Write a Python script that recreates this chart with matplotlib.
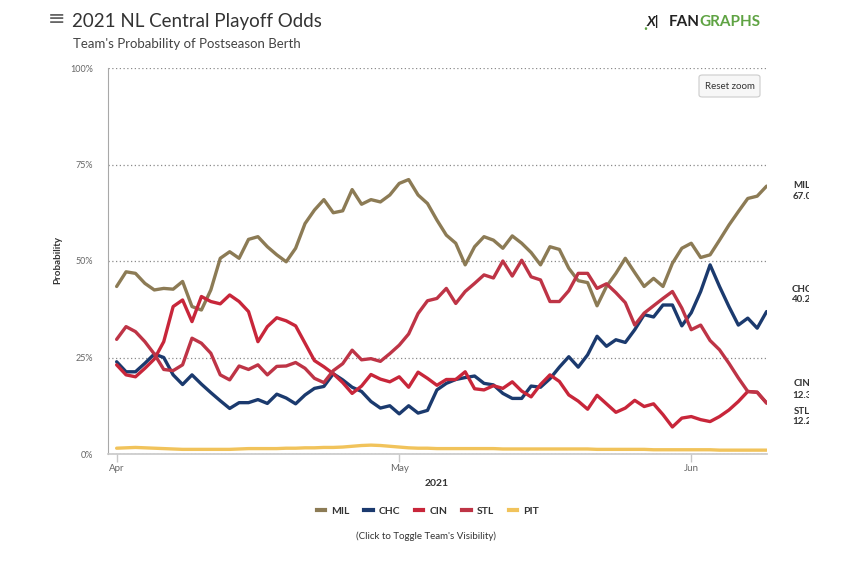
import numpy as np
import pandas as pd
import matplotlib
matplotlib.use("Agg")
import matplotlib.pyplot as plt
import matplotlib.dates as mdates
from matplotlib.lines import Line2D
from matplotlib.patches import FancyBboxPatch, Rectangle

plt.rcParams['font.family'] = ['Lato', 'DejaVu Sans']

# data: daily playoff odds (%), Apr 1 - Jun 9, 2021
dates = pd.date_range("2021-04-01", periods=70, freq="D")

mil = [43.4, 47.2, 46.8, 44.2, 42.5, 42.9, 42.7, 44.7, 38.2, 37.3,
       42.5, 50.7, 52.4, 50.7, 55.6, 56.3, 53.7, 51.6, 49.8, 53.3,
       59.7, 63.2, 65.9, 62.5, 63.0, 68.5, 64.7, 65.9, 65.3, 67.1,
       70.1, 71.1, 67.1, 64.9, 60.6, 56.7, 54.6, 49.0, 53.7, 56.3,
       55.4, 53.3, 56.5, 54.6, 52.2, 49.0, 53.7, 53.0, 48.1, 44.9,
       44.4, 38.4, 43.4, 46.8, 50.7, 47.0, 43.4, 45.5, 43.4, 49.4,
       53.3, 54.6, 50.9, 51.6, 55.4, 59.3, 62.8, 66.2, 66.8, 69.4]

chc = [23.9, 21.3, 21.3, 23.5, 25.9, 25.0, 20.5, 18.0, 20.5, 18.1,
       15.9, 13.8, 11.8, 13.3, 13.3, 14.1, 13.1, 15.5, 14.5, 13.0,
       15.3, 17.0, 17.5, 20.8, 19.2, 17.3, 16.2, 13.6, 11.9, 12.5,
       10.4, 12.5, 10.6, 11.3, 16.6, 18.3, 19.3, 19.8, 20.2, 18.3,
       17.9, 15.7, 14.4, 14.4, 17.6, 17.3, 19.5, 22.5, 25.2, 22.5,
       25.7, 30.5, 27.9, 29.6, 28.9, 32.2, 36.1, 35.5, 38.6, 38.6,
       33.2, 36.6, 42.1, 49.0, 43.4, 38.2, 33.4, 35.2, 32.6, 36.9]

cin = [23.1, 20.5, 20.0, 22.2, 24.6, 29.1, 38.2, 39.9, 34.3, 40.8,
       39.5, 38.9, 41.2, 39.5, 36.9, 29.1, 33.0, 35.3, 34.5, 33.2,
       28.7, 24.2, 22.6, 20.8, 18.5, 15.7, 17.6, 20.6, 19.4, 18.7,
       20.0, 17.3, 21.2, 19.6, 17.8, 19.3, 19.3, 21.3, 16.9, 16.6,
       17.7, 17.0, 18.7, 16.3, 14.8, 18.0, 20.5, 18.8, 15.3, 13.7,
       11.6, 15.2, 13.0, 10.8, 11.9, 13.9, 12.3, 13.0, 10.2, 7.0,
       9.3, 9.7, 8.9, 8.4, 9.7, 11.4, 13.6, 16.2, 16.0, 13.2]

stl = [29.7, 33.0, 31.7, 29.1, 25.9, 21.9, 21.6, 23.1, 30.0, 28.7,
       26.1, 20.5, 19.2, 22.8, 21.9, 23.1, 20.5, 22.7, 22.8, 23.7,
       22.2, 19.6, 18.5, 21.6, 23.4, 26.9, 24.4, 24.7, 24.0, 26.0,
       28.2, 31.1, 36.4, 39.7, 40.3, 42.9, 39.0, 42.1, 44.2, 46.4,
       45.6, 50.0, 46.1, 50.2, 45.9, 45.1, 39.5, 39.5, 42.3, 46.8,
       46.8, 42.9, 44.1, 41.8, 39.2, 33.4, 36.5, 38.4, 40.3, 42.1,
       37.8, 32.2, 33.4, 29.4, 27.0, 23.5, 19.7, 16.2, 16.0, 13.2]

pit = [1.5, 1.6, 1.7, 1.6, 1.5, 1.4, 1.3, 1.2, 1.2, 1.2,
       1.2, 1.2, 1.2, 1.3, 1.4, 1.4, 1.4, 1.4, 1.5, 1.5,
       1.6, 1.6, 1.7, 1.7, 1.8, 2.0, 2.2, 2.3, 2.2, 2.0,
       1.8, 1.6, 1.5, 1.5, 1.4, 1.4, 1.4, 1.4, 1.4, 1.4,
       1.4, 1.3, 1.3, 1.3, 1.3, 1.3, 1.3, 1.3, 1.3, 1.3,
       1.3, 1.2, 1.2, 1.2, 1.2, 1.2, 1.2, 1.1, 1.1, 1.1,
       1.1, 1.1, 1.1, 1.1, 1.0, 1.0, 1.0, 1.0, 1.0, 1.0]

teams = ["MIL", "CHC", "CIN", "STL", "PIT"]
colors = ["#8C7B55", "#1B3A6E", "#C8263A", "#BE3446", "#F1C35B"]
series = [mil, chc, cin, stl, pit]

end_labels = ["MIL", "CHC", "CIN", "STL"]
end_values = ["67.0", "40.2", "12.3", "12.2"]

W, H = 850, 564
def px(x):
    return x / W
def py(y):
    return 1 - y / H

fig = plt.figure(figsize=(8.5, 5.64), dpi=100)
ax = fig.add_axes([px(108), py(454), (767 - 108) / W, (454 - 68) / H])

for vals, c in zip(series, colors):
    ax.plot(dates, vals, color=c, lw=2.4, solid_joinstyle="round",
            solid_capstyle="round", zorder=3)

ax.set_ylim(0, 100)
ax.set_xlim(dates[0] - pd.Timedelta(hours=22), dates[-1] + pd.Timedelta(hours=1))
ax.set_yticks([0, 25, 50, 75, 100])
ax.set_yticklabels(["0%", "25%", "50%", "75%", "100%"])
ax.yaxis.grid(True, linestyle=(0, (1, 2)), color="#8a8a8a", lw=0.9)
ax.tick_params(axis="y", length=0, pad=11, labelsize=6.5, labelcolor="#666666")

ax.xaxis.set_major_locator(mdates.MonthLocator())
ax.xaxis.set_major_formatter(mdates.DateFormatter("%b"))
ax.tick_params(axis="x", length=6, width=1, color="#c8c8c8", pad=1,
               labelsize=7, labelcolor="#666666")

for s in ["top", "right"]:
    ax.spines[s].set_visible(False)
ax.spines["left"].set_color("#a8a8a8")
ax.spines["bottom"].set_color("#c8c8c8")
ax.spines["bottom"].set_linewidth(1.2)

fig.text(px(58), py(260), "Probability", fontsize=7, fontweight="bold", color="#333333",
         rotation=90, ha="center", va="center")
fig.text(px(437), py(483), "2021", fontsize=7.5, fontweight="bold", color="#333333",
         ha="center", va="center")

# header
fig.text(px(57), py(19), "\u2261", fontsize=15, color="#666666", ha="center", va="center",
         family="DejaVu Sans")
fig.text(px(72), py(22), "2021 NL Central Playoff Odds", fontsize=13.5, color="#333333",
         va="center")
fig.text(px(73), py(44), "Team's Probability of Postseason Berth", fontsize=9.5,
         color="#444444", va="center")

# logo
fig.text(px(643), py(25), ".", fontsize=12, color="#5FA343", fontweight="bold", va="center")
fig.text(px(647), py(22), "X|", fontsize=10, color="#222222", fontweight="bold",
         style="italic", va="center")
fig.text(px(700), py(22), "FAN", fontsize=11, color="#222222", fontweight="bold",
         ha="right", va="center")
fig.text(px(699), py(22), "GRAPHS", fontsize=11, color="#5FA343", fontweight="bold",
         ha="left", va="center")

# reset zoom button
btn = FancyBboxPatch((px(699), py(97)), (760 - 699) / W, (97 - 75) / H,
                     boxstyle="round,pad=0,rounding_size=0.004",
                     transform=fig.transFigure, facecolor="#f7f7f7",
                     edgecolor="#cccccc", lw=0.8, zorder=5)
fig.patches.append(btn)
fig.text(px(729.5), py(86), "Reset zoom", fontsize=7, color="#333333", ha="center",
         va="center", zorder=6)

# end labels (clipped at the chart edge)
clip = Rectangle((0, 0), px(809), 1, transform=fig.transFigure, visible=False)
fig.patches.append(clip)
label_y = [(186, 197), (289, 300), (384, 396), (411, 422)]
for name, val, (y1, y2) in zip(end_labels, end_values, label_y):
    t1 = fig.text(px(802), py(y1), name, fontsize=7, fontweight="bold", color="#333333",
                  ha="center", va="center")
    t2 = fig.text(px(802), py(y2), val, fontsize=7, fontweight="bold", color="#333333",
                  ha="center", va="center")
    t1.set_clip_path(clip)
    t2.set_clip_path(clip)

# legend
handles = [Line2D([0], [0], color=c, lw=3) for c in colors]
leg = fig.legend(handles, teams, loc="center", bbox_to_anchor=(px(428), py(511)),
                 ncol=5, frameon=False, handlelength=0.8, handletextpad=0.6,
                 columnspacing=1.4, prop={"size": 7.5, "weight": "bold"})
for t in leg.get_texts():
    t.set_color("#333333")

fig.text(px(426), py(536), "(Click to Toggle Team's Visibility)", fontsize=7,
         color="#333333", ha="center", va="center")

fig.savefig("out.png", dpi=100)
